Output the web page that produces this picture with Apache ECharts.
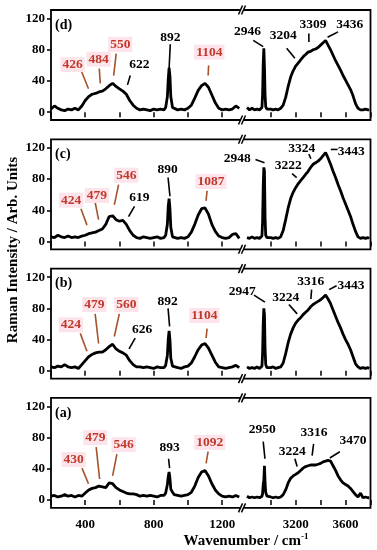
<!DOCTYPE html>
<html><head><meta charset="utf-8">
<script src="https://cdn.jsdelivr.net/npm/echarts@6/dist/echarts.min.js"></script>
<style>html,body{margin:0;padding:0;background:#fff}#c{width:377px;height:550px}</style>
</head><body><div id="c"></div>
<script>
// ---------- data ----------
const leftX = [200,220,240,260,280,300,320,340,360,380,400,420,440,460,480,500,520,540,560,580,600,620,640,660,680,700,720,740,760,780,800,820,840,860,870,880,885,890,895,900,910,920,940,960,980,1000,1020,1040,1060,1080,1100,1120,1140,1160,1180,1200,1220,1240,1260,1280,1300];
const rightX = [2810,2830,2850,2870,2890,2910,2920,2930,2935,2940,2945,2950,2955,2960,2970,2980,3000,3020,3040,3060,3080,3100,3120,3140,3160,3180,3200,3220,3240,3260,3280,3300,3320,3340,3360,3380,3400,3420,3440,3460,3480,3500,3520,3540,3560,3580,3600,3620,3640,3660,3680,3700,3720,3740,3760,3780,3790];

const dLeft = [4,8,5,3,2,4,3,5,3,8,15,20,23,24,26,27,30,34,37,33,30,27,23,15,9,5,3,4,3,2,4,3,4,3,6,20,42,57,46,20,6,4,3,4,3,5,9,18,28,34,37,32,22,12,5,3,4,3,4,8,5];
const dRight = [6,3,5,3,4,3,4,6,22,62,82,58,22,7,4,3,4,3,4,3,5,9,19,33,45,53,59,63,67,71,74,77,78,80,81,83,86,89,92,86,80,73,66,60,54,47,41,35,29,21,11,5,3,3,4,3,3];

const cLeft = [6,5,8,6,5,7,5,6,5,7,8,10,11,12,14,16,22,32,33,28,26,27,22,14,8,5,4,6,5,4,5,6,4,5,8,22,45,55,42,18,6,5,4,5,4,6,12,22,34,42,43,35,22,13,7,5,4,5,9,10,4];
const cRight = [5,4,6,4,5,4,5,7,25,70,95,90,30,8,5,4,5,4,5,4,6,14,28,43,55,63,69,74,78,82,86,90,95,99,101,103,106,110,114,107,99,90,82,73,65,56,48,40,32,22,13,6,4,5,4,5,4];

const bLeft = [5,4,6,5,8,5,4,5,3,8,13,18,21,23,24,24,27,31,34,28,25,23,20,13,8,5,5,4,5,4,3,5,4,4,7,20,40,51,40,16,6,4,4,3,5,6,10,18,27,33,35,29,20,11,5,4,3,4,5,7,4];
const bRight = [5,3,4,3,5,3,4,6,22,60,80,72,28,8,4,3,4,5,3,4,5,10,22,36,47,55,61,65,68,72,75,78,82,85,87,89,91,94,97,92,86,78,70,62,55,47,40,34,27,18,9,5,3,4,3,4,3];

const aLeft = [5,6,4,5,7,5,6,4,6,5,9,13,15,16,18,17,16,22,21,16,13,11,9,8,8,7,5,6,5,6,5,4,6,6,9,20,30,36,28,14,10,7,6,5,6,7,10,18,29,36,38,31,21,13,8,5,4,5,4,6,4];
const aRight = [5,3,4,3,4,3,4,5,8,20,25,44,22,10,5,4,4,3,4,3,4,7,13,22,28,31,33,35,38,41,43,44,45,45,45,46,47,49,50,51,50,44,38,31,26,22,20,18,15,11,7,4,9,3,4,3,3];

const panelLabels = ['(d)','(c)','(b)','(a)'];
const leftSeries = [dLeft, cLeft, bLeft, aLeft];
const rightSeries = [dRight, cRight, bRight, aRight];

// annotations: [text, red?, labelX, labelY, lineX1, lineY1, lineX2, lineY2] in data units
const annD = [['426',1,326,61,375,54,419,30],['484',1,478,68,482,56,488,37],['550',1,605,87,581,75,566,47],['622',0,716,61,663,47,647,35],['892',0,897,96,897,87,890,56],['1104',1,1125,77,1121,60,1118,47],['2946',0,2814,103,2860,92,2940,84],['3204',0,3100,98,3128,82,3194,69],['3309',0,3340,112,3306,101,3306,90],['3436',0,3634,112,3540,103,3456,96]];
const annC = [['424',1,318,53,375,42,410,21],['479',1,468,59,458,50,478,28],['546',1,640,85,595,73,570,47],['619',0,717,57,688,45,653,32],['890',0,881,92,884,82,895,58],['1087',1,1135,77,1112,65,1106,52],['2948',0,2732,106,2878,105,2950,101],['3222',0,3140,97,3172,87,3208,82],['3324',0,3248,119,3306,112,3322,106],['3443',0,3646,115,3482,118,3536,118]];
const annB = [['424',1,316,59,371,48,410,25],['479',1,453,85,458,73,478,35],['560',1,640,85,599,73,570,44],['626',0,732,53,692,42,656,28],['892',0,881,89,884,80,893,57],['1104',1,1096,71,1112,54,1106,42],['2947',0,2772,102,2866,97,2954,88],['3224',0,3120,94,3146,85,3212,73],['3316',0,3322,115,3328,104,3322,92],['3443',0,3644,109,3468,104,3528,109]];
const annA = [['430',1,332,52,381,41,419,21],['479',1,459,80,464,68,484,27],['546',1,624,71,585,59,560,31],['893',0,893,68,887,53,893,41],['1092',1,1127,74,1118,62,1106,47],['2950',0,2932,90,2940,75,2954,53],['3224',0,3172,62,3194,53,3212,43],['3316',0,3348,86,3344,72,3332,57],['3470',0,3660,76,3554,62,3474,54]];
const annotations = [annD, annC, annB, annA];

const yTicks = [0,40,80,120];
const leftTicks = [200,400,600,800,1000,1200];
const leftLabels = [400,800,1200];
const rightTicks = [3000,3200,3400,3600,3800];
const rightLabels = [3200,3600];

// ---------- layout ----------
const FONT = '"Liberation Serif","Times New Roman",serif';
const GL = 51, GB = 242, GR = 370.5, H = 110;
const tops = [10, 139.3, 268.6, 397.9];
const RED = '#c0392b', PINK = '#fce4ea', BROWN = '#a5532a';
const plain = v => String(v);

const chart = echarts.init(document.getElementById('c'));
const grids = [], xAxes = [], yAxes = [], series = [];
tops.forEach((t, i) => {
  const last = i === 3;
  grids.push({left: GL, top: t, width: GB - GL, height: H, show: true, borderColor: '#000', borderWidth: 1.8});
  grids.push({left: GB, top: t, width: GR - GB, height: H, show: true, borderColor: '#000', borderWidth: 1.8});
  const lab = {show: last, color: '#000', fontFamily: FONT, fontWeight: 'bold', fontSize: 13, margin: 10, formatter: plain};
  xAxes.push({type: 'value', gridIndex: 2*i, min: 200, max: 1316, axisLine: {show: false}, splitLine: {show: false},
    axisTick: {show: true, inside: false, length: 5, lineStyle: {color: '#000', width: 1.5}, customValues: leftTicks},
    axisLabel: Object.assign({customValues: leftLabels}, lab)});
  xAxes.push({type: 'value', gridIndex: 2*i+1, min: 2770, max: 3800, axisLine: {show: false}, splitLine: {show: false},
    axisTick: {show: true, inside: false, length: 5, lineStyle: {color: '#000', width: 1.5}, customValues: rightTicks},
    axisLabel: Object.assign({customValues: rightLabels}, lab)});
  yAxes.push({type: 'value', gridIndex: 2*i, min: -10, max: 131, axisLine: {show: false}, splitLine: {show: false},
    axisTick: {show: true, length: 4, lineStyle: {color: '#000', width: 1.5}, customValues: yTicks},
    axisLabel: {customValues: yTicks, color: '#000', fontFamily: FONT, fontWeight: 'bold', fontSize: 13, margin: 6, formatter: plain}});
  yAxes.push({type: 'value', gridIndex: 2*i+1, min: -10, max: 131, show: false});
  const ls = {color: '#000', width: 2.8};
  series.push({type: 'line', xAxisIndex: 2*i, yAxisIndex: 2*i, showSymbol: false, symbol: 'none', lineStyle: ls, clip: true,
    data: leftX.map((x, k) => [x, leftSeries[i][k]])});
  series.push({type: 'line', xAxisIndex: 2*i+1, yAxisIndex: 2*i+1, showSymbol: false, symbol: 'none', lineStyle: ls, clip: true,
    data: rightX.map((x, k) => [x, rightSeries[i][k]])});
});

chart.setOption({animation: false, backgroundColor: '#fff', grid: grids, xAxis: xAxes, yAxis: yAxes, series: series});

const g = [];
tops.forEach((t, i) => {
  const b = t + H;
  g.push({type: 'rect', shape: {x: GB - 1.3, y: t - 2, width: 2.6, height: H + 4}, style: {fill: '#fff'}, z: 100});
  [t, b].forEach(y => {
    g.push({type: 'polygon', shape: {points: [[GB - 3.5, y + 4.5], [GB + 0.5, y - 4.5], [GB + 3.5, y - 4.5], [GB - 0.5, y + 4.5]]}, style: {fill: '#fff'}, z: 100});
    g.push({type: 'line', shape: {x1: GB - 3.5, y1: y + 4.5, x2: GB + 0.5, y2: y - 4.5}, style: {stroke: '#000', lineWidth: 1.5}, z: 101});
    g.push({type: 'line', shape: {x1: GB - 0.5, y1: y + 4.5, x2: GB + 3.5, y2: y - 4.5}, style: {stroke: '#000', lineWidth: 1.5}, z: 101});
  });
  g.push({type: 'text', x: GL + 4, y: t + 15, style: {text: panelLabels[i], font: 'bold 14px ' + FONT, fill: '#000', align: 'left', verticalAlign: 'middle'}, z: 102});
  annotations[i].forEach(a => {
    const gi = a[4] < 2000 ? 2*i : 2*i+1;
    const p = chart.convertToPixel({gridIndex: gi}, [a[2], a[3]]);
    const p1 = chart.convertToPixel({gridIndex: gi}, [a[4], a[5]]);
    const p2 = chart.convertToPixel({gridIndex: gi}, [a[6], a[7]]);
    const red = a[1] === 1;
    g.push({type: 'line', shape: {x1: p1[0], y1: p1[1], x2: p2[0], y2: p2[1]}, style: {stroke: red ? BROWN : '#000', lineWidth: 1.6}, z: 103});
    const st = {text: a[0], font: 'bold 13.5px ' + FONT, fill: red ? RED : '#000', align: 'center', verticalAlign: 'middle'};
    if (red) { st.backgroundColor = PINK; st.padding = [1, 2, 0, 2]; }
    g.push({type: 'text', x: p[0], y: p[1], style: st, z: 104});
  });
});
g.push({type: 'text', x: 13, y: 250, rotation: Math.PI / 2, style: {text: 'Raman Intensity / Arb. Units', font: 'bold 15px ' + FONT, fill: '#000', align: 'center', verticalAlign: 'middle'}, z: 102});
g.push({type: 'text', x: 246, y: 541, style: {text: 'Wavenumber / cm{s|-1}', font: 'bold 15px ' + FONT, fill: '#000', align: 'center', verticalAlign: 'middle',
  rich: {s: {font: 'bold 9px ' + FONT, fill: '#000', verticalAlign: 'top', padding: [0, 0, 8, 0]}}}, z: 102});
chart.setOption({graphic: {elements: g}});
</script></body></html>
